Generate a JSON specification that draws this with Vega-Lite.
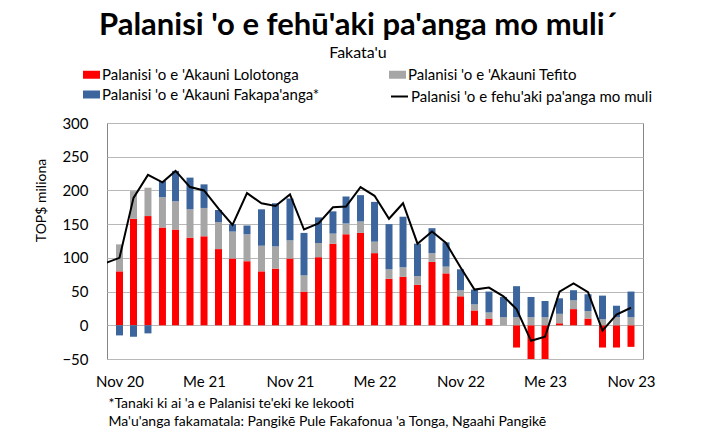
{
  "$schema": "https://vega.github.io/schema/vega-lite/v6.json",
  "width": 536,
  "height": 236,
  "autosize": {"type": "none"},
  "padding": {"left": 107, "top": 123, "right": 61, "bottom": 73},
  "background": "white",
  "title": {
    "text": "Palanisi 'o e fehū'aki pa'anga mo muli´",
    "subtitle": "Fakata'u",
    "anchor": "middle",
    "dx": -17,
    "offset": 4,
    "font": "Lato",
    "fontSize": 31,
    "fontWeight": "bold",
    "color": "#000000",
    "subtitleFont": "Lato",
    "subtitleFontSize": 16,
    "subtitleColor": "#000000",
    "subtitlePadding": 3
  },
  "datasets": {
    "accounts": [
      {"month": "2020-11-01", "series": "Palanisi 'o e 'Akauni Lolotonga", "value": 80}, {"month": "2020-11-01", "series": "Palanisi 'o e 'Akauni Tefito", "value": 40}, {"month": "2020-11-01", "series": "Palanisi 'o e 'Akauni Fakapa'anga*", "value": -15},
      {"month": "2020-12-01", "series": "Palanisi 'o e 'Akauni Lolotonga", "value": 158}, {"month": "2020-12-01", "series": "Palanisi 'o e 'Akauni Tefito", "value": 41}, {"month": "2020-12-01", "series": "Palanisi 'o e 'Akauni Fakapa'anga*", "value": -17},
      {"month": "2021-01-01", "series": "Palanisi 'o e 'Akauni Lolotonga", "value": 162}, {"month": "2021-01-01", "series": "Palanisi 'o e 'Akauni Tefito", "value": 42}, {"month": "2021-01-01", "series": "Palanisi 'o e 'Akauni Fakapa'anga*", "value": -12},
      {"month": "2021-02-01", "series": "Palanisi 'o e 'Akauni Lolotonga", "value": 145}, {"month": "2021-02-01", "series": "Palanisi 'o e 'Akauni Tefito", "value": 45}, {"month": "2021-02-01", "series": "Palanisi 'o e 'Akauni Fakapa'anga*", "value": 24},
      {"month": "2021-03-01", "series": "Palanisi 'o e 'Akauni Lolotonga", "value": 142}, {"month": "2021-03-01", "series": "Palanisi 'o e 'Akauni Tefito", "value": 42}, {"month": "2021-03-01", "series": "Palanisi 'o e 'Akauni Fakapa'anga*", "value": 45},
      {"month": "2021-04-01", "series": "Palanisi 'o e 'Akauni Lolotonga", "value": 130}, {"month": "2021-04-01", "series": "Palanisi 'o e 'Akauni Tefito", "value": 42}, {"month": "2021-04-01", "series": "Palanisi 'o e 'Akauni Fakapa'anga*", "value": 47},
      {"month": "2021-05-01", "series": "Palanisi 'o e 'Akauni Lolotonga", "value": 132}, {"month": "2021-05-01", "series": "Palanisi 'o e 'Akauni Tefito", "value": 42}, {"month": "2021-05-01", "series": "Palanisi 'o e 'Akauni Fakapa'anga*", "value": 35},
      {"month": "2021-06-01", "series": "Palanisi 'o e 'Akauni Lolotonga", "value": 113}, {"month": "2021-06-01", "series": "Palanisi 'o e 'Akauni Tefito", "value": 40}, {"month": "2021-06-01", "series": "Palanisi 'o e 'Akauni Fakapa'anga*", "value": 18},
      {"month": "2021-07-01", "series": "Palanisi 'o e 'Akauni Lolotonga", "value": 99}, {"month": "2021-07-01", "series": "Palanisi 'o e 'Akauni Tefito", "value": 40}, {"month": "2021-07-01", "series": "Palanisi 'o e 'Akauni Fakapa'anga*", "value": 11},
      {"month": "2021-08-01", "series": "Palanisi 'o e 'Akauni Lolotonga", "value": 95}, {"month": "2021-08-01", "series": "Palanisi 'o e 'Akauni Tefito", "value": 40}, {"month": "2021-08-01", "series": "Palanisi 'o e 'Akauni Fakapa'anga*", "value": 13},
      {"month": "2021-09-01", "series": "Palanisi 'o e 'Akauni Lolotonga", "value": 80}, {"month": "2021-09-01", "series": "Palanisi 'o e 'Akauni Tefito", "value": 38}, {"month": "2021-09-01", "series": "Palanisi 'o e 'Akauni Fakapa'anga*", "value": 54},
      {"month": "2021-10-01", "series": "Palanisi 'o e 'Akauni Lolotonga", "value": 84}, {"month": "2021-10-01", "series": "Palanisi 'o e 'Akauni Tefito", "value": 33}, {"month": "2021-10-01", "series": "Palanisi 'o e 'Akauni Fakapa'anga*", "value": 64},
      {"month": "2021-11-01", "series": "Palanisi 'o e 'Akauni Lolotonga", "value": 99}, {"month": "2021-11-01", "series": "Palanisi 'o e 'Akauni Tefito", "value": 27}, {"month": "2021-11-01", "series": "Palanisi 'o e 'Akauni Fakapa'anga*", "value": 62},
      {"month": "2021-12-01", "series": "Palanisi 'o e 'Akauni Lolotonga", "value": 50}, {"month": "2021-12-01", "series": "Palanisi 'o e 'Akauni Tefito", "value": 24}, {"month": "2021-12-01", "series": "Palanisi 'o e 'Akauni Fakapa'anga*", "value": 63},
      {"month": "2022-01-01", "series": "Palanisi 'o e 'Akauni Lolotonga", "value": 101}, {"month": "2022-01-01", "series": "Palanisi 'o e 'Akauni Tefito", "value": 21}, {"month": "2022-01-01", "series": "Palanisi 'o e 'Akauni Fakapa'anga*", "value": 38},
      {"month": "2022-02-01", "series": "Palanisi 'o e 'Akauni Lolotonga", "value": 121}, {"month": "2022-02-01", "series": "Palanisi 'o e 'Akauni Tefito", "value": 15}, {"month": "2022-02-01", "series": "Palanisi 'o e 'Akauni Fakapa'anga*", "value": 33},
      {"month": "2022-03-01", "series": "Palanisi 'o e 'Akauni Lolotonga", "value": 135}, {"month": "2022-03-01", "series": "Palanisi 'o e 'Akauni Tefito", "value": 16}, {"month": "2022-03-01", "series": "Palanisi 'o e 'Akauni Fakapa'anga*", "value": 40},
      {"month": "2022-04-01", "series": "Palanisi 'o e 'Akauni Lolotonga", "value": 137}, {"month": "2022-04-01", "series": "Palanisi 'o e 'Akauni Tefito", "value": 17}, {"month": "2022-04-01", "series": "Palanisi 'o e 'Akauni Fakapa'anga*", "value": 39},
      {"month": "2022-05-01", "series": "Palanisi 'o e 'Akauni Lolotonga", "value": 107}, {"month": "2022-05-01", "series": "Palanisi 'o e 'Akauni Tefito", "value": 17}, {"month": "2022-05-01", "series": "Palanisi 'o e 'Akauni Fakapa'anga*", "value": 59},
      {"month": "2022-06-01", "series": "Palanisi 'o e 'Akauni Lolotonga", "value": 69}, {"month": "2022-06-01", "series": "Palanisi 'o e 'Akauni Tefito", "value": 14}, {"month": "2022-06-01", "series": "Palanisi 'o e 'Akauni Fakapa'anga*", "value": 67},
      {"month": "2022-07-01", "series": "Palanisi 'o e 'Akauni Lolotonga", "value": 72}, {"month": "2022-07-01", "series": "Palanisi 'o e 'Akauni Tefito", "value": 14}, {"month": "2022-07-01", "series": "Palanisi 'o e 'Akauni Fakapa'anga*", "value": 75},
      {"month": "2022-08-01", "series": "Palanisi 'o e 'Akauni Lolotonga", "value": 60}, {"month": "2022-08-01", "series": "Palanisi 'o e 'Akauni Tefito", "value": 13}, {"month": "2022-08-01", "series": "Palanisi 'o e 'Akauni Fakapa'anga*", "value": 48},
      {"month": "2022-09-01", "series": "Palanisi 'o e 'Akauni Lolotonga", "value": 94}, {"month": "2022-09-01", "series": "Palanisi 'o e 'Akauni Tefito", "value": 13}, {"month": "2022-09-01", "series": "Palanisi 'o e 'Akauni Fakapa'anga*", "value": 37},
      {"month": "2022-10-01", "series": "Palanisi 'o e 'Akauni Lolotonga", "value": 77}, {"month": "2022-10-01", "series": "Palanisi 'o e 'Akauni Tefito", "value": 10}, {"month": "2022-10-01", "series": "Palanisi 'o e 'Akauni Fakapa'anga*", "value": 36},
      {"month": "2022-11-01", "series": "Palanisi 'o e 'Akauni Lolotonga", "value": 43}, {"month": "2022-11-01", "series": "Palanisi 'o e 'Akauni Tefito", "value": 9}, {"month": "2022-11-01", "series": "Palanisi 'o e 'Akauni Fakapa'anga*", "value": 31},
      {"month": "2022-12-01", "series": "Palanisi 'o e 'Akauni Lolotonga", "value": 22}, {"month": "2022-12-01", "series": "Palanisi 'o e 'Akauni Tefito", "value": 9}, {"month": "2022-12-01", "series": "Palanisi 'o e 'Akauni Fakapa'anga*", "value": 22},
      {"month": "2023-01-01", "series": "Palanisi 'o e 'Akauni Lolotonga", "value": 10}, {"month": "2023-01-01", "series": "Palanisi 'o e 'Akauni Tefito", "value": 9}, {"month": "2023-01-01", "series": "Palanisi 'o e 'Akauni Fakapa'anga*", "value": 31},
      {"month": "2023-02-01", "series": "Palanisi 'o e 'Akauni Lolotonga", "value": 0}, {"month": "2023-02-01", "series": "Palanisi 'o e 'Akauni Tefito", "value": 12}, {"month": "2023-02-01", "series": "Palanisi 'o e 'Akauni Fakapa'anga*", "value": 30},
      {"month": "2023-03-01", "series": "Palanisi 'o e 'Akauni Lolotonga", "value": -33}, {"month": "2023-03-01", "series": "Palanisi 'o e 'Akauni Tefito", "value": 12}, {"month": "2023-03-01", "series": "Palanisi 'o e 'Akauni Fakapa'anga*", "value": 46},
      {"month": "2023-04-01", "series": "Palanisi 'o e 'Akauni Lolotonga", "value": -50}, {"month": "2023-04-01", "series": "Palanisi 'o e 'Akauni Tefito", "value": 12}, {"month": "2023-04-01", "series": "Palanisi 'o e 'Akauni Fakapa'anga*", "value": 30},
      {"month": "2023-05-01", "series": "Palanisi 'o e 'Akauni Lolotonga", "value": -50}, {"month": "2023-05-01", "series": "Palanisi 'o e 'Akauni Tefito", "value": 12}, {"month": "2023-05-01", "series": "Palanisi 'o e 'Akauni Fakapa'anga*", "value": 24},
      {"month": "2023-06-01", "series": "Palanisi 'o e 'Akauni Lolotonga", "value": 3}, {"month": "2023-06-01", "series": "Palanisi 'o e 'Akauni Tefito", "value": 14}, {"month": "2023-06-01", "series": "Palanisi 'o e 'Akauni Fakapa'anga*", "value": 23},
      {"month": "2023-07-01", "series": "Palanisi 'o e 'Akauni Lolotonga", "value": 24}, {"month": "2023-07-01", "series": "Palanisi 'o e 'Akauni Tefito", "value": 13}, {"month": "2023-07-01", "series": "Palanisi 'o e 'Akauni Fakapa'anga*", "value": 15},
      {"month": "2023-08-01", "series": "Palanisi 'o e 'Akauni Lolotonga", "value": 10}, {"month": "2023-08-01", "series": "Palanisi 'o e 'Akauni Tefito", "value": 11}, {"month": "2023-08-01", "series": "Palanisi 'o e 'Akauni Fakapa'anga*", "value": 25},
      {"month": "2023-09-01", "series": "Palanisi 'o e 'Akauni Lolotonga", "value": -33}, {"month": "2023-09-01", "series": "Palanisi 'o e 'Akauni Tefito", "value": 9}, {"month": "2023-09-01", "series": "Palanisi 'o e 'Akauni Fakapa'anga*", "value": 35},
      {"month": "2023-10-01", "series": "Palanisi 'o e 'Akauni Lolotonga", "value": -33}, {"month": "2023-10-01", "series": "Palanisi 'o e 'Akauni Tefito", "value": 12}, {"month": "2023-10-01", "series": "Palanisi 'o e 'Akauni Fakapa'anga*", "value": 17},
      {"month": "2023-11-01", "series": "Palanisi 'o e 'Akauni Lolotonga", "value": -32}, {"month": "2023-11-01", "series": "Palanisi 'o e 'Akauni Tefito", "value": 12}, {"month": "2023-11-01", "series": "Palanisi 'o e 'Akauni Fakapa'anga*", "value": 38}
    ],
    "balance": [
      {"month": "2020-10-01", "value": 92},
      {"month": "2020-11-01", "value": 100},
      {"month": "2020-12-01", "value": 189},
      {"month": "2021-01-01", "value": 223},
      {"month": "2021-02-01", "value": 212},
      {"month": "2021-03-01", "value": 229},
      {"month": "2021-04-01", "value": 205},
      {"month": "2021-05-01", "value": 200},
      {"month": "2021-06-01", "value": 173},
      {"month": "2021-07-01", "value": 149},
      {"month": "2021-08-01", "value": 196},
      {"month": "2021-09-01", "value": 181},
      {"month": "2021-10-01", "value": 177},
      {"month": "2021-11-01", "value": 194},
      {"month": "2021-12-01", "value": 142},
      {"month": "2022-01-01", "value": 151},
      {"month": "2022-02-01", "value": 175},
      {"month": "2022-03-01", "value": 176},
      {"month": "2022-04-01", "value": 205},
      {"month": "2022-05-01", "value": 192},
      {"month": "2022-06-01", "value": 158},
      {"month": "2022-07-01", "value": 181},
      {"month": "2022-08-01", "value": 121},
      {"month": "2022-09-01", "value": 139},
      {"month": "2022-10-01", "value": 122},
      {"month": "2022-11-01", "value": 86},
      {"month": "2022-12-01", "value": 53},
      {"month": "2023-01-01", "value": 56},
      {"month": "2023-02-01", "value": 43},
      {"month": "2023-03-01", "value": 24},
      {"month": "2023-04-01", "value": -23},
      {"month": "2023-05-01", "value": -17},
      {"month": "2023-06-01", "value": 50},
      {"month": "2023-07-01", "value": 62},
      {"month": "2023-08-01", "value": 49},
      {"month": "2023-09-01", "value": -8},
      {"month": "2023-10-01", "value": 16},
      {"month": "2023-11-01", "value": 26}
    ]
  },
  "encoding": {
    "x": {
      "field": "month",
      "type": "temporal",
      "scale": {
        "type": "utc",
        "domain": [
          {"year": 2020, "month": 10, "date": 16, "utc": true},
          {"year": 2023, "month": 11, "date": 16, "utc": true}
        ]
      },
      "axis": {
        "values": [
          {"year": 2020, "month": 11, "date": 1, "utc": true},
          {"year": 2021, "month": 5, "date": 1, "utc": true},
          {"year": 2021, "month": 11, "date": 1, "utc": true},
          {"year": 2022, "month": 5, "date": 1, "utc": true},
          {"year": 2022, "month": 11, "date": 1, "utc": true},
          {"year": 2023, "month": 5, "date": 1, "utc": true},
          {"year": 2023, "month": 11, "date": 1, "utc": true}
        ],
        "labelExpr": "(utcmonth(datum.value) == 4 ? 'Me ' : 'Nov ') + utcFormat(datum.value, '%y')",
        "labelFlush": false,
        "labelBound": false,
        "labelOverlap": false,
        "labelFont": "Lato",
        "labelFontSize": 15,
        "labelColor": "#000000",
        "labelPadding": 15,
        "domain": false,
        "ticks": false,
        "grid": false,
        "title": ["*Tanaki ki ai 'a e Palanisi te'eki ke lekooti", "Ma'u'anga fakamatala: Pangikē Pule Fakafonua 'a Tonga, Ngaahi Pangikē"],
        "titleFont": "Lato",
        "titleFontSize": 14,
        "titleFontWeight": "normal",
        "titleColor": "#000000",
        "titleAnchor": "start",
        "titleAlign": "left",
        "titleBaseline": "top",
        "titleX": 1,
        "titleY": 37,
        "titleLineHeight": 18
      }
    },
    "y": {
      "field": "value",
      "type": "quantitative",
      "scale": {"domain": [-50, 300], "nice": false, "zero": false},
      "axis": {
        "values": [-50, 0, 50, 100, 150, 200, 250, 300],
        "grid": true,
        "gridColor": "#b8b8b8",
        "gridWidth": 1,
        "domain": false,
        "ticks": false,
        "labelFont": "Lato",
        "labelFontSize": 15,
        "labelColor": "#000000",
        "labelPadding": 19,
        "title": "TOP$ miliona",
        "titleFont": "Lato",
        "titleFontSize": 14,
        "titleFontWeight": "normal",
        "titleColor": "#000000",
        "titleAngle": -90,
        "titleAlign": "center",
        "titleBaseline": "middle",
        "titleX": -66,
        "titleY": 77
      }
    }
  },
  "layer": [
    {
      "data": {"name": "accounts"},
      "transform": [
        {"calculate": "indexof([\"Palanisi 'o e 'Akauni Lolotonga\", \"Palanisi 'o e 'Akauni Tefito\", \"Palanisi 'o e 'Akauni Fakapa'anga*\"], datum.series)", "as": "stack_rank"}
      ],
      "mark": {"type": "bar", "size": 7},
      "encoding": {
        "order": {"field": "stack_rank", "type": "quantitative", "sort": "ascending"},
        "fill": {
          "field": "series",
          "type": "nominal",
          "scale": {
            "domain": ["Palanisi 'o e 'Akauni Lolotonga", "Palanisi 'o e 'Akauni Tefito", "Palanisi 'o e 'Akauni Fakapa'anga*"],
            "range": ["#ff0000", "#a6a6a6", "#3b659c"]
          },
          "legend": {
            "orient": "none",
            "direction": "horizontal",
            "legendX": -24,
            "legendY": -57,
            "columns": 2,
            "columnPadding": 69,
            "rowPadding": 3,
            "title": null,
            "symbolType": "M-1,-0.47H1V0.47H-1Z",
            "symbolSize": 289,
            "symbolStrokeWidth": 0,
            "labelFont": "Lato",
            "labelFontSize": 15,
            "labelColor": "#000000",
            "labelOffset": 2,
            "labelLimit": 400
          }
        }
      }
    },
    {
      "data": {"name": "balance"},
      "mark": {"type": "line", "strokeWidth": 2, "clip": true},
      "encoding": {
        "stroke": {
          "datum": "Palanisi 'o e fehu'aki pa'anga mo muli",
          "type": "nominal",
          "scale": {"range": ["#000000"]},
          "legend": {
            "orient": "none",
            "legendX": 283,
            "legendY": -36,
            "title": null,
            "symbolType": "stroke",
            "symbolSize": 289,
            "symbolStrokeWidth": 2,
            "labelFont": "Lato",
            "labelFontSize": 15,
            "labelColor": "#000000",
            "labelOffset": 2,
            "labelLimit": 400
          }
        }
      }
    }
  ],
  "config": {
    "view": {"stroke": "#868686", "strokeWidth": 1}
  }
}
